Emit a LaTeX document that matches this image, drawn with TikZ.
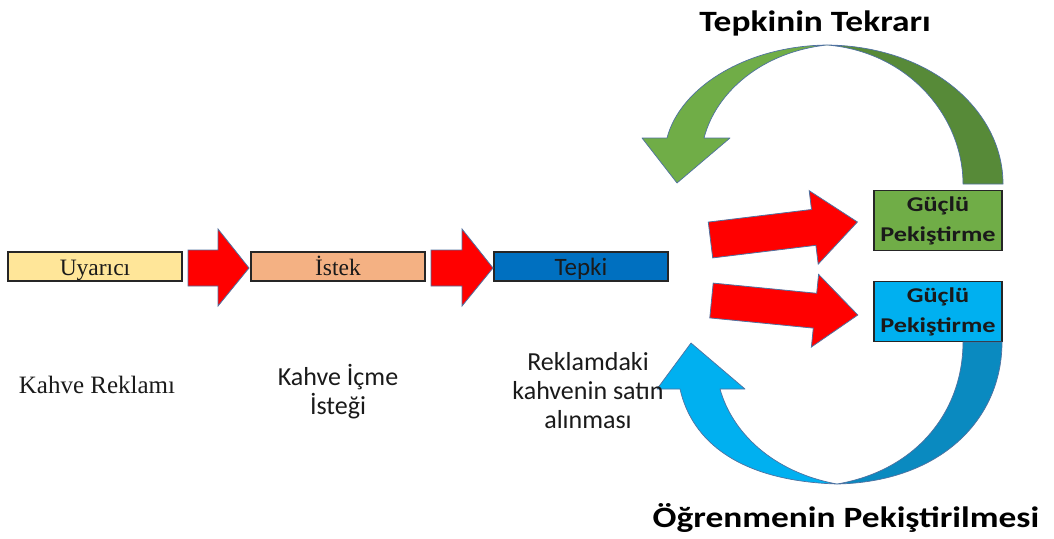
\documentclass[tikz,border=0pt]{standalone}
\usepackage{fontspec}
\setmainfont{Liberation Serif}
\newfontfamily\calib{Carlito}
\newfontfamily\calibwide[FakeStretch=1.2]{Carlito}
\newfontfamily\calibboxfont[FakeStretch=1.25]{Carlito}
\definecolor{uyarcol}{HTML}{FFE699}
\definecolor{istekcol}{HTML}{F4B183}
\definecolor{tepkicol}{HTML}{0070C0}
\definecolor{greenlight}{HTML}{70AD47}
\definecolor{greendark}{HTML}{578A38}
\definecolor{bluelight}{HTML}{00B0F0}
\definecolor{bluedark}{HTML}{0A8AC0}
\definecolor{edgecol}{HTML}{4F71A0}
\definecolor{txt}{HTML}{1A1A1A}
\begin{document}
\begin{tikzpicture}[x=1pt,y=-1pt,
  flowbox/.style={draw=black!85, line width=1.3pt, minimum width=174pt, minimum height=29pt, inner sep=0pt, text=txt,
     text height=17pt, text depth=0pt},
  strongbox/.style={draw=black!85, line width=1.3pt, minimum width=128pt, minimum height=60pt, inner sep=0pt, align=center, text=txt,
     font=\calibboxfont\bfseries\fontsize{21}{30}\selectfont},
  redarrow/.style={fill=red, draw=edgecol, line width=0.8pt, line join=miter},
  curvearrow/.style={draw=edgecol, line width=0.7pt, line join=round},
  serifl/.style={font=\fontsize{25}{28}\selectfont, text=txt},
  sansl/.style={font=\calib\fontsize{26}{29}\selectfont, align=center, text=txt},
  titlel/.style={font=\calibwide\bfseries\fontsize{29.5}{34}\selectfont, text=black}
]
\useasboundingbox (0,0) rectangle (1054,538);

% flow boxes
\node[flowbox, fill=uyarcol] (uyarici) at (95,266.5) {\fontsize{23.5}{28}\selectfont Uyarıcı};
\node[flowbox, fill=istekcol] (istek) at (338,266.5) {\fontsize{23.5}{28}\selectfont İstek};
\node[flowbox, fill=tepkicol] (tepki) at (581,266.5) {\calib\fontsize{25}{28}\selectfont Tepki};

% strong reinforcement boxes
\node[strongbox, fill=greenlight] (guclu1) at (938,220.5) {Güçlü\\Pekiştirme};
\node[strongbox, fill=bluelight] (guclu2) at (938,311.5) {Güçlü\\Pekiştirme};

% horizontal block arrows
\draw[redarrow] (188,250) -- (218,250) -- (218,229) -- (249,268) -- (218,306) -- (218,286) -- (188,286) -- cycle;
\draw[redarrow] (431,250) -- (462,250) -- (462,229) -- (493,268) -- (462,306) -- (462,286) -- (431,286) -- cycle;

% slanted block arrows
\draw[redarrow] (708.3,222.1) -- (811.5,209.5) -- (809.2,190.7) -- (857.4,222.0) -- (818.2,264.1) -- (815.9,245.3) -- (712.7,257.9) -- cycle;
\draw[redarrow] (713.2,283.1) -- (816.7,293.3) -- (818.6,274.4) -- (857.8,315.0) -- (811.4,347.0) -- (813.3,328.1) -- (709.8,317.9) -- cycle;

% green curved arrow (top)
\coordinate (gtop) at (827,45);
\filldraw[curvearrow, fill=greendark] (gtop) .. controls (930,46) and (1003,110) .. (1003,184)
  -- (963,184) .. controls (963,118) and (910,52) .. (gtop) -- cycle;
\filldraw[curvearrow, fill=greenlight] (gtop) .. controls (745,46) and (680,88) .. (667,138)
  -- (642,138) -- (677,183) -- (730,138) -- (704,138) .. controls (716,92) and (762,52) .. (gtop) -- cycle;

% blue curved arrow (bottom)
\coordinate (bbot) at (837,484);
\filldraw[curvearrow, fill=bluedark] (bbot) .. controls (940,482) and (1002,420) .. (1002,342)
  -- (963,342) .. controls (963,410) and (918,470) .. (bbot) -- cycle;
\filldraw[curvearrow, fill=bluelight] (bbot) .. controls (740,481) and (692,442) .. (680,389)
  -- (657,389) -- (691,343) -- (745,389) -- (720,389) .. controls (732,432) and (772,472) .. (bbot) -- cycle;

% titles
\node[titlel, anchor=base] (ttitle) at (815,31) {Tepkinin Tekrarı};
\node[titlel, anchor=base] (btitle) at (846,527) {Öğrenmenin Pekiştirilmesi};

% lower labels (base anchor = baseline of last line)
\node[serifl, anchor=base] (l1) at (97,393) {Kahve Reklamı};
\node[sansl, anchor=base] (l2) at (338,414) {Kahve İçme\\İsteği};
\node[sansl, anchor=base] (l3) at (588,428) {Reklamdaki\\kahvenin satın\\alınması};
\end{tikzpicture}
\end{document}
